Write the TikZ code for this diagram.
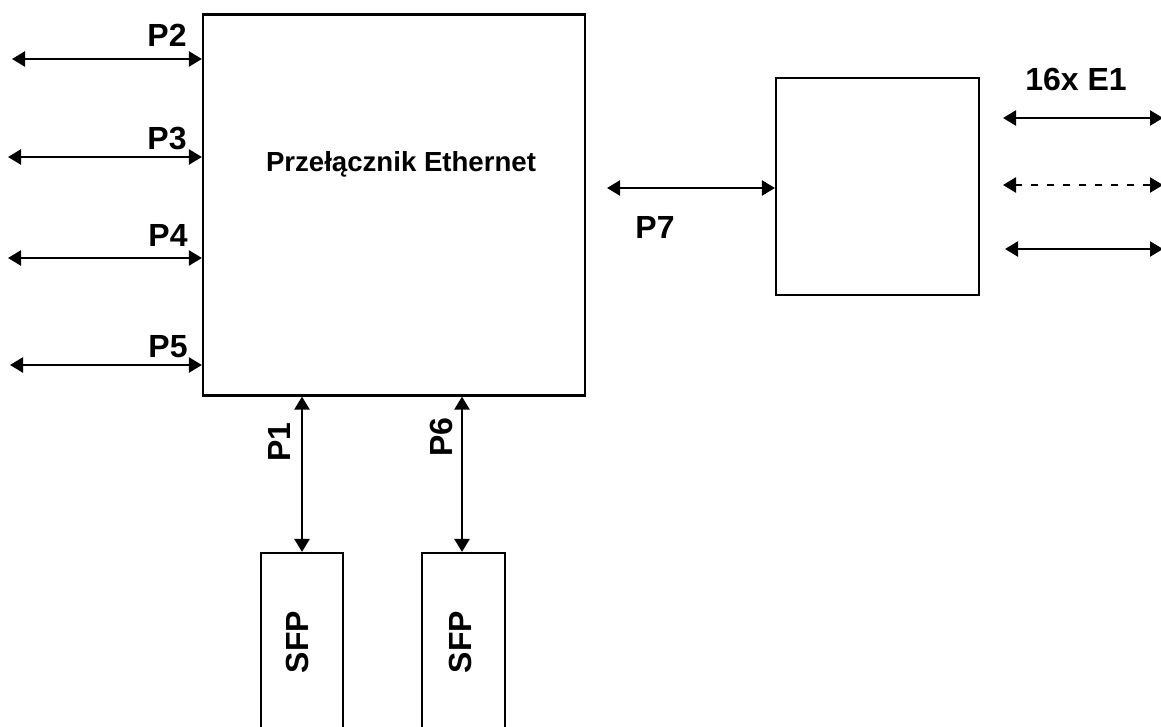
\documentclass[tikz,border=0pt]{standalone}
\usepackage{fontspec}
\setmainfont{Liberation Sans}
\usetikzlibrary{arrows.meta}
\begin{document}
\begin{tikzpicture}[x=0.5pt, y=-0.5pt, line cap=butt,
  blok/.style={draw=black, line width=1.1pt, inner sep=0pt, fill=white},
  dwu/.style={line width=1.2pt, {Triangle[length=6.5pt,width=7.5pt]}-{Triangle[length=6.5pt,width=7.5pt]}},
  etyk/.style={inner sep=0pt, font=\fontsize{16}{18}\selectfont\bfseries}]
% Canvas
\useasboundingbox (0,0) rectangle (1161,727);
\clip (0,0) rectangle (1161,727);
\fill[white] (0,0) rectangle (1161,727);
% Boxes
\node[blok, minimum width=191pt, minimum height=190.5pt] (przel) at (394,205) {};
\node[blok, minimum width=101.5pt, minimum height=108.5pt] (mux) at (877.5,186.5) {};
\node[blok, minimum width=41pt, minimum height=123.5pt] (sfp1) at (302,676.5) {};
\node[blok, minimum width=41.5pt, minimum height=123.5pt] (sfp2) at (463.5,676.5) {};
\node[anchor=base, inner sep=0pt, font=\fontsize{13.8}{16}\selectfont\bfseries] (przeltxt) at (401,172) {Przełącznik Ethernet};
% Free ends of the ports
\coordinate (l2) at (12,59);
\coordinate (l3) at (8,157);
\coordinate (l4) at (8,258);
\coordinate (l5) at (10,365);
\coordinate (l7) at (607,188);
\coordinate (e1a) at (1003,118);
\coordinate (e1b) at (1163,118);
\coordinate (e2a) at (1003,185);
\coordinate (e2b) at (1163,185);
\coordinate (e3a) at (1005,249);
\coordinate (e3b) at (1163,249);
% Port connectors
\draw[dwu] (l2) -- (l2 -| przel.west);
\draw[dwu] (l3) -- (l3 -| przel.west);
\draw[dwu] (l4) -- (l4 -| przel.west);
\draw[dwu] (l5) -- (l5 -| przel.west);
\draw[dwu] (l7) -- (l7 -| mux.west);
\draw[dwu] (sfp1.north) -- (sfp1.north |- przel.south);
\draw[dwu] ([xshift=-0.75pt]sfp2.north) -- ([xshift=-0.75pt]sfp2.north |- przel.south);
% E1 lines
\draw[dwu] (e1a) -- (e1b);
\draw[dwu, dash pattern=on 3.5pt off 4.5pt] (e2a) -- (e2b);
\draw[dwu] (e3a) -- (e3b);
% Labels
\node[etyk, anchor=base east] (p2) at (187,47) {P2};
\node[etyk, anchor=base east] (p3) at (187,150) {P3};
\node[etyk, anchor=base east] (p4) at (188,247) {P4};
\node[etyk, anchor=base east] (p5) at (188,357) {P5};
\node[etyk, anchor=base west] (p7) at (635,239) {P7};
\node[etyk, anchor=base west] (e1) at (1025,91) {16x E1};
\node[etyk, rotate=90] (p1) at (279,442) {P1};
\node[etyk, rotate=90] (p6) at (441,437) {P6};
\node[etyk, rotate=90] (sfp1txt) at (297,642) {SFP};
\node[etyk, rotate=90] (sfp2txt) at (460,642) {SFP};
\end{tikzpicture}
\end{document}
